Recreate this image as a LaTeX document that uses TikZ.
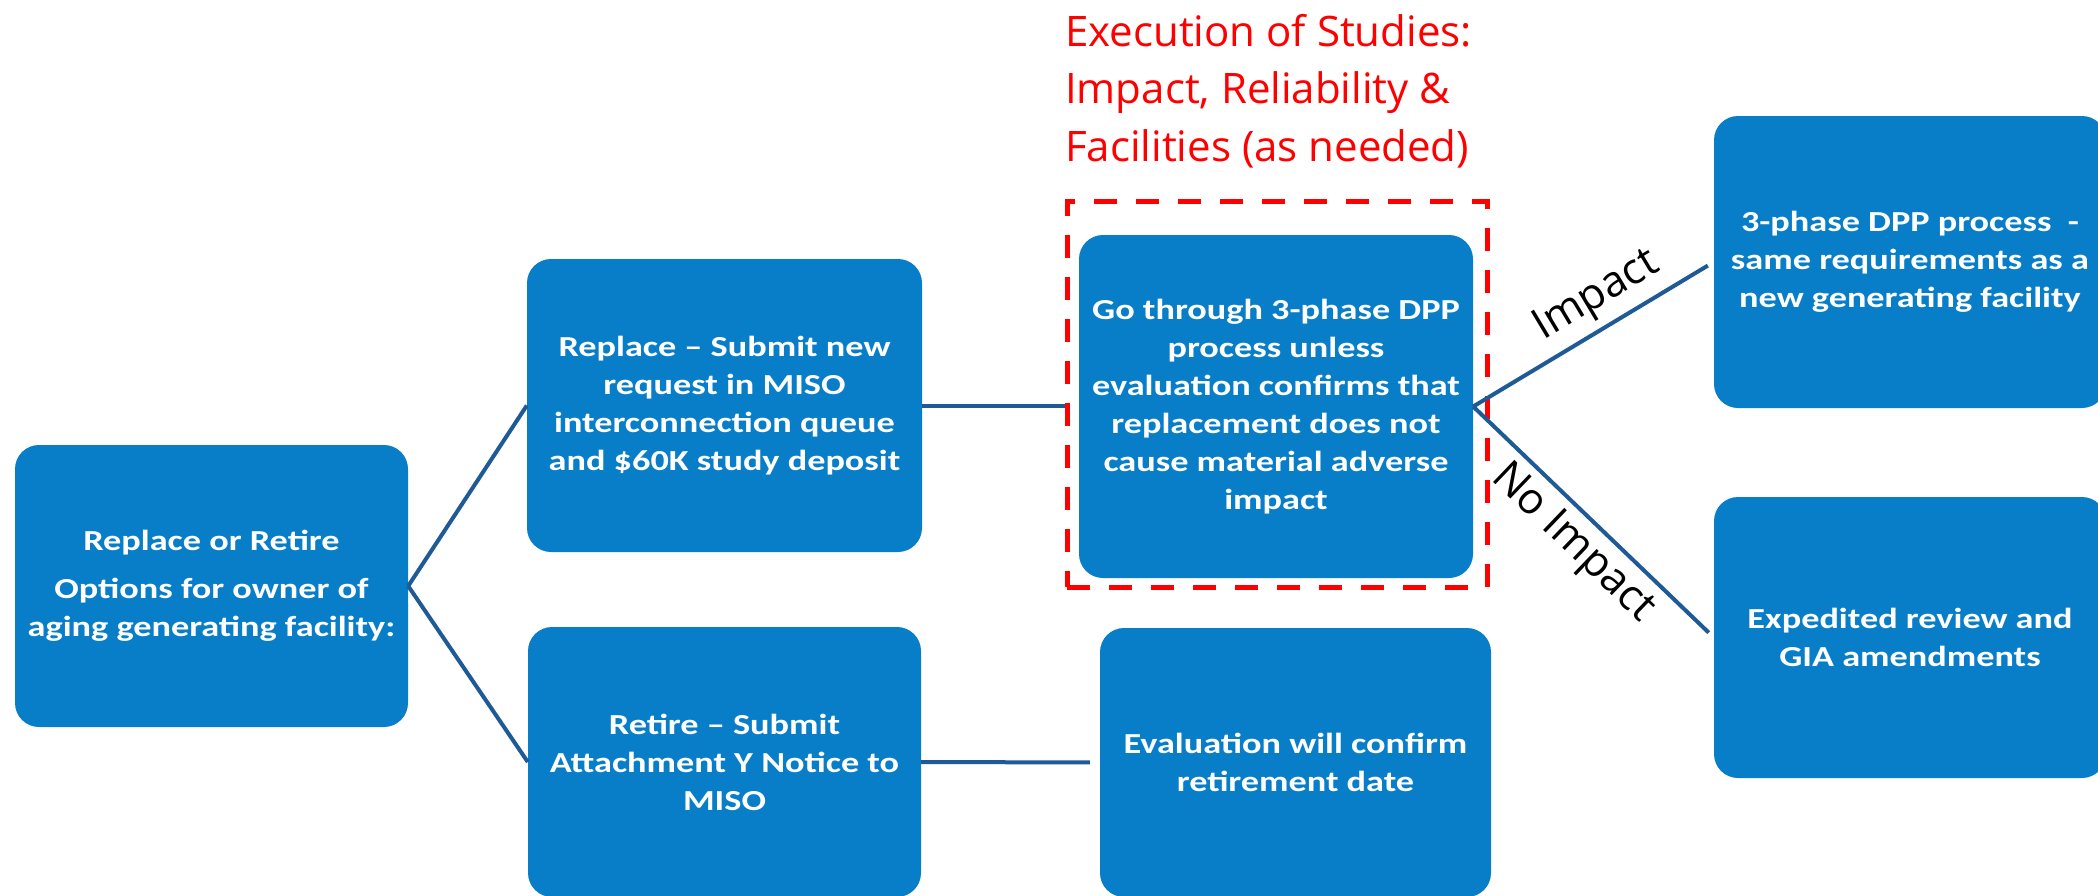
\documentclass[tikz,border=0pt]{standalone}
\usepackage{fontspec}
\newfontfamily\boxfont{Carlito}[FakeStretch=1.25,Ligatures=TeX]
\newfontfamily\labelfont{Open Sans}
\definecolor{boxblue}{RGB}{8,126,200}
\definecolor{linkblue}{RGB}{30,90,150}
\definecolor{studyred}{RGB}{255,0,0}
\begin{document}
\begin{tikzpicture}[x=1pt,y=-1pt,
  box/.style={fill=boxblue, rounded corners=24pt, text=white, align=center, inner sep=0pt,
    font=\boxfont\bfseries\fontsize{29}{38}\selectfont},
  link/.style={draw=linkblue, line width=4pt},
  lbl/.style={font=\labelfont\fontsize{43}{50}\selectfont, text=black, sloped, inner sep=8pt},
  studyframe/.style={draw=studyred, line width=5pt, dash pattern=on 23pt off 19pt},
]
\clip (0,0) rectangle (2098,895);
\fill[white] (0,0) rectangle (2098,895);

% boxes
\node[box, minimum width=393pt, minimum height=282pt] (b1) at (211.5,586)
  {Replace or Retire\\[10pt]Options for owner of\\aging generating facility:};
\node[box, minimum width=395pt, minimum height=293pt] (b2) at (724.5,405.5)
  {Replace \textendash{} Submit new\\request in MISO\\interconnection queue\\and \$60K study deposit};
\node[box, minimum width=393pt, minimum height=270pt] (b3) at (724.5,762)
  {Retire \textendash{} Submit\\Attachment Y Notice to\\MISO};
\node[box, minimum width=394pt, minimum height=343pt] (go) at (1276,406.5)
  {Go through 3-phase DPP\\process unless\\evaluation confirms that\\replacement does not\\cause material adverse\\impact};
\node[box, minimum width=391pt, minimum height=269pt] (ev) at (1295.5,762.5)
  {Evaluation will confirm\\retirement date};
\node[box, minimum width=392pt, minimum height=292pt] (p3) at (1910,262)
  {3-phase DPP process~ -\\same requirements as a\\new generating facility};
\node[box, minimum width=392pt, minimum height=281pt] (ex) at (1910,637.5)
  {Expedited review and\\GIA amendments};

% study frame and title
\node[studyframe, minimum width=420pt, minimum height=386pt, inner sep=0pt] (frame) at (1277,394) {};
\node[anchor=north west, inner sep=0pt, align=left, text=studyred,
  font=\labelfont\fontsize{42}{57.5}\selectfont] (title) at (1065,14)
  {Execution of Studies:\\Impact, Reliability \&\\Facilities (as needed)};

% connectors
\draw[link] (b1.east) -- (b2.west);
\draw[link] (b1.east) -- (b3.west);
\draw[link] (b2.east) -- (b2.east -| frame.west);
\draw[link, shorten >=10pt] (b3.east) -- (ev.west);
\draw[link, shorten >=7pt] (go.east) -- node[lbl, pos=0.58, anchor=south] (limp) {Impact} (p3.west);
\draw[link, shorten >=7pt] (go.east) -- node[lbl, pos=0.5, anchor=north] (lno) {No Impact} (ex.west);
\end{tikzpicture}
\end{document}
